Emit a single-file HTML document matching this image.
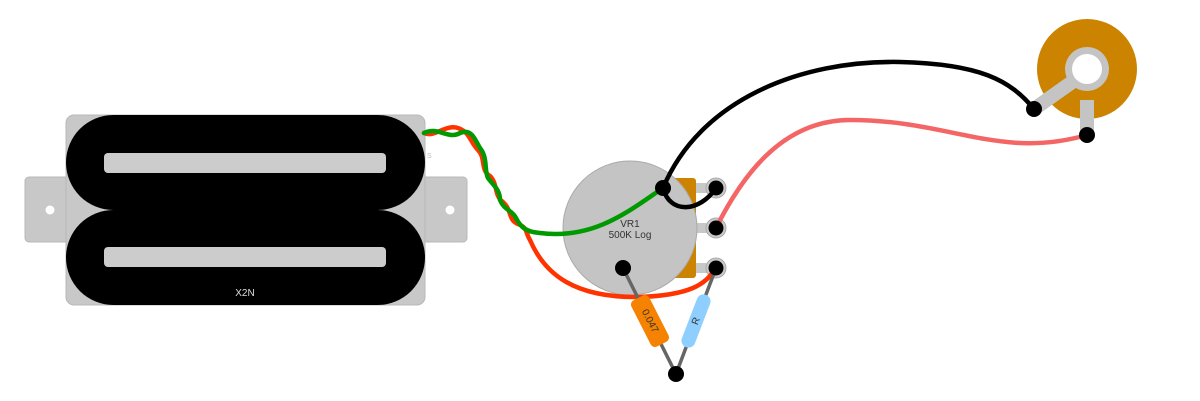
<!DOCTYPE html>
<html><head><style>html,body{margin:0;padding:0;background:#fff;}svg{display:block}</style></head>
<body>
<svg width="1200" height="401" viewBox="0 0 1200 401" xmlns="http://www.w3.org/2000/svg" font-family="Liberation Sans, sans-serif">
<rect x="25" y="177" width="442" height="65" rx="4" fill="#c8c8c8" stroke="#b8b8b8"/>
<circle cx="50" cy="210" r="4.5" fill="#fff"/>
<circle cx="450" cy="210" r="4.5" fill="#fff"/>
<rect x="66" y="115" width="359" height="190" rx="8" fill="#c8c8c8" stroke="#b8b8b8"/>
<rect x="66" y="115" width="359" height="95" rx="47.5" fill="#000"/>
<rect x="66" y="210" width="359" height="95" rx="47.5" fill="#000"/>
<rect x="104" y="153" width="282" height="20" rx="4" fill="#cccccc"/>
<rect x="104" y="247" width="282" height="20" rx="4" fill="#cccccc"/>
<text x="245" y="296" font-size="10" fill="#ddd" text-anchor="middle">X2N</text>
<text x="427" y="158" font-size="7" fill="#bbb">S</text>
<rect x="670" y="178" width="26" height="100" rx="3" fill="#cc8400"/>
<rect x="696" y="183" width="16" height="10" fill="#c8c8c8"/>
<rect x="696" y="223" width="16" height="10" fill="#c8c8c8"/>
<rect x="696" y="263" width="16" height="10" fill="#c8c8c8"/>
<circle cx="630" cy="228" r="67" fill="#c4c4c4" stroke="#aaa"/>
<text x="630" y="227" font-size="10" fill="#333" text-anchor="middle">VR1</text>
<text x="630" y="238" font-size="10" fill="#333" text-anchor="middle">500K Log</text>
<g fill="#c8c8c8" stroke="#aaa"><circle cx="716" cy="188" r="10"/><circle cx="716" cy="228" r="10"/><circle cx="716" cy="268" r="10"/></g>
<circle cx="1087" cy="69" r="50" fill="#cc8400"/>
<rect x="1080" y="100" width="14" height="36" fill="#c4c4c4"/>
<line x1="1034" y1="109" x2="1075" y2="80" stroke="#c4c4c4" stroke-width="14"/>
<circle cx="1087" cy="69" r="22" fill="#c4c4c4"/>
<circle cx="1087" cy="69" r="15" fill="#fff"/>
<g fill="none" stroke-linecap="round" stroke-width="4.5">
<path d="M424,133 C435,138 445,124 458,128 C470,132 470,142 478,150 C486,158 480,170 490,176 C498,184 494,196 503,202 C512,210 508,220 518,224 C528,228 525,232 530,240 C545,275 575,298 640,297 C690,295 705,285 716,268" stroke="#ff3300"/>
<path d="M424,133 C438,126 448,140 460,133 C472,128 475,140 480,148 C488,158 484,170 488,178 C494,186 500,190 500,200 C504,210 512,210 516,218 C520,226 525,232 540,233 C595,240 630,210 663,188" stroke="#009900"/>
<path d="M663,188 C700,100 800,60 900,62 C980,64 1010,80 1034,109" stroke="#000"/>
<path d="M663,188 C670,215 700,212 716,188" stroke="#000"/>
<path d="M716,228 C740,180 780,120 850,120 C950,120 1000,160 1087,135" stroke="#f46666"/>
</g>
<g stroke="#666" stroke-width="3.5" fill="none"><path d="M623,268 L676,374 L716,268"/></g>
<g transform="translate(650,321) rotate(-27)"><rect x="-10" y="-26" width="20" height="52" rx="5" fill="#f58200"/><text font-size="10" fill="#333" text-anchor="middle" transform="rotate(90)" dy="3">0.047</text></g>
<g transform="translate(696,321) rotate(21)"><rect x="-7" y="-28" width="14" height="56" rx="7" fill="#8ecfff"/><text font-size="10" fill="#333" text-anchor="middle" transform="rotate(-90)" dy="3">R</text></g>
<g fill="#000"><circle cx="663" cy="188" r="8"/><circle cx="716" cy="188" r="7.5"/><circle cx="716" cy="228" r="7.5"/><circle cx="716" cy="268" r="7.5"/><circle cx="623" cy="268" r="8"/><circle cx="676" cy="374" r="8"/><circle cx="1034" cy="109" r="8"/><circle cx="1087" cy="135" r="8"/></g>
</svg>
</body></html>
